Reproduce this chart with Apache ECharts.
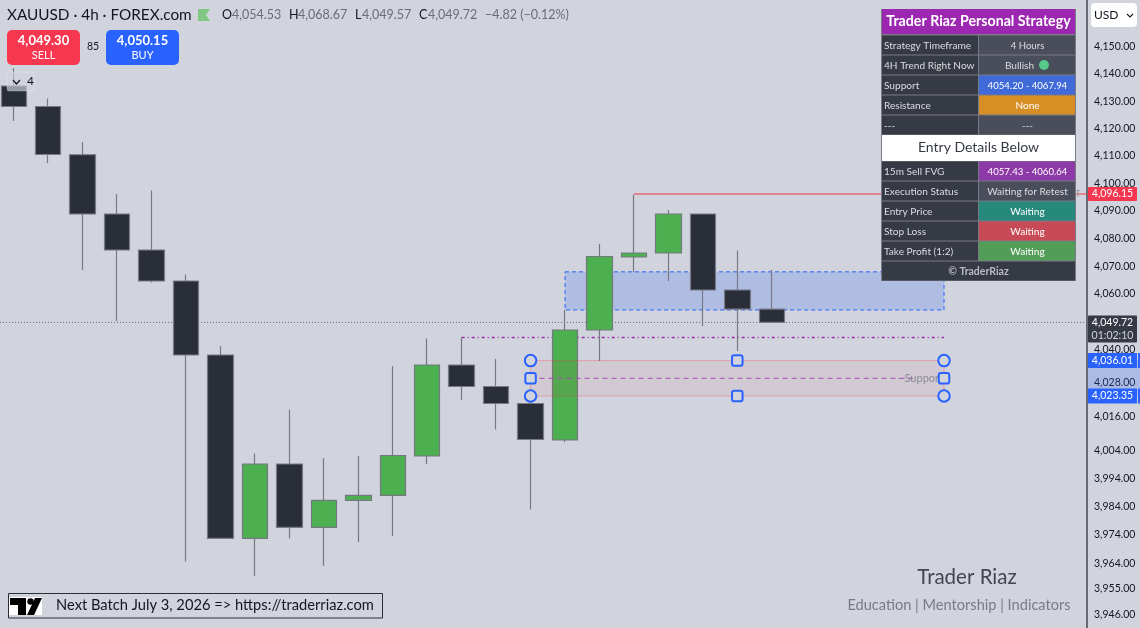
<!DOCTYPE html>
<html>
<head>
<meta charset="utf-8">
<style>
  html, body { margin: 0; padding: 0; background: #d1d4dc; }
  #chart { width: 1140px; height: 628px; }
</style>
<script src="https://cdn.jsdelivr.net/npm/echarts@6/dist/echarts.min.js"></script>
</head>
<body>
<div id="chart"></div>
<script>
// [open, close, low, high] per 4h bar
const candles = [
  [4135.61, 4128.09, 4122.78, 4142.23],
  [4128.09, 4110.54, 4107.44, 4131.03],
  [4110.45, 4088.88, 4068.60, 4115.10],
  [4088.88, 4075.84, 4050.23, 4096.15],
  [4075.84, 4064.63, 4064.09, 4097.42],
  [4064.63, 4038.02, 3964.69, 4066.98],
  [4038.02, 3972.79, 3972.79, 4041.25],
  [3972.79, 3999.14, 3959.59, 4002.87],
  [3999.14, 3976.67, 3972.79, 4018.53],
  [3976.67, 3986.21, 3963.10, 4001.27],
  [3986.21, 3987.98, 3971.55, 4001.98],
  [3987.98, 4002.16, 3973.67, 4034.08],
  [4001.98, 4034.44, 3999.14, 4043.94],
  [4034.44, 4026.75, 4021.92, 4044.30],
  [4026.75, 4020.68, 4011.40, 4036.59],
  [4020.68, 4007.84, 3983.03, 4023.35],
  [4007.67, 4046.99, 4006.95, 4054.18],
  [4046.99, 4073.48, 4035.87, 4078.01],
  [4073.30, 4074.75, 4067.88, 4095.97],
  [4074.75, 4088.88, 4064.63, 4090.34],
  [4088.88, 4061.39, 4048.43, 4088.88],
  [4061.39, 4054.53, 4039.46, 4075.65],
  [4054.53, 4049.72, 4049.57, 4068.67]
];
const tickValues = [4150, 4140, 4130, 4120, 4110, 4100, 4090, 4080, 4070, 4060, 4040,
  4028, 4016, 4004, 3994, 3984, 3974, 3964, 3955, 3946];

const lastPrice = 4049.72;
const swingHigh = 4096.15;
const swingLine = 4044.30;
const fvgZone = [4067.94, 4054.20];
const supportZone = [4036.01, 4023.35];
const supportMid = 4029.68;
const circleHandles = [[15, 4036.01], [15, 4023.35], [27, 4036.01], [27, 4023.35]];
const squareHandles = [[15, 4029.68], [27, 4029.68], [21, 4036.01], [21, 4023.35]];

const ohlcLegend = [
  ['O', '4,054.53', 222, 232], ['H', '4,068.67', 289, 298],
  ['L', '4,049.57', 355, 362], ['C', '4,049.72', 419, 428]
];
const changeText = '−4.82 (−0.12%)';
const tableRows = [
  ['Strategy Timeframe', '4 Hours', '#4a4e5a'],
  ['4H Trend Right Now', 'Bullish', '#4a4e5a'],
  ['Support', '4054.20 - 4067.94', '#3f6ad8'],
  ['Resistance', 'None', '#d68e25'],
  ['---', '---', '#4a4e5a'],
  null,
  ['15m Sell FVG', '4057.43 - 4060.64', '#8e3aa6'],
  ['Execution Status', 'Waiting for Retest', '#4a4e5a'],
  ['Entry Price', 'Waiting', '#26897b'],
  ['Stop Loss', 'Waiting', '#c94a57'],
  ['Take Profit (1:2)', 'Waiting', '#529e58']
];

const FONT = 'Lato, "Noto Sans", sans-serif';
const BG = '#d1d4dc';
const BLUE = '#2962ff';
const RED = '#f7374f';
const INK = '#131722';
const xMin = -0.4;
const xMax = 31.15;

const chart = echarts.init(document.getElementById('chart'));

function txt(x, y, text, size, fill, extra) {
  return {
    type: 'text', x, y, z: 30,
    style: Object.assign({ text, fontSize: size, fontFamily: FONT, fill, verticalAlign: 'middle' }, extra || {})
  };
}
function box(x, y, w, h, fill, extra) {
  return {
    type: 'rect', z: 20,
    shape: { x, y, width: w, height: h, r: (extra && extra.r) || 0 },
    style: { fill, stroke: (extra && extra.stroke) || null, lineWidth: (extra && extra.lineWidth) || 0 }
  };
}

function buildHeader() {
  const g = [];
  g.push(txt(7, 15, 'XAUUSD · 4h · FOREX.com', 15.3, INK));
  g.push({
    type: 'polygon', z: 30,
    shape: { points: [[198, 9], [210, 9], [206, 15], [210, 21], [198, 21]] },
    style: { fill: '#81c784' }
  });
  ohlcLegend.forEach(function (o) {
    g.push(txt(o[2], 15, o[0], 12.5, INK));
    g.push(txt(o[3], 15, o[1], 12.5, '#6a6d78'));
  });
  g.push(txt(485, 15, changeText, 12.5, '#6a6d78'));

  g.push(box(7, 30, 73, 35, RED, { r: 5 }));
  g.push(txt(43.5, 41, '4,049.30', 13, '#fff', { align: 'center', fontWeight: 'bold' }));
  g.push(txt(43.5, 55, 'SELL', 11, '#fff', { align: 'center' }));
  g.push(txt(93, 47, '85', 10.5, INK, { align: 'center' }));
  g.push(box(106, 30, 73, 35, BLUE, { r: 5 }));
  g.push(txt(142.5, 41, '4,050.15', 13, '#fff', { align: 'center', fontWeight: 'bold' }));
  g.push(txt(142.5, 55, 'BUY', 11, '#fff', { align: 'center' }));

  g.push(box(7, 72, 27, 19, 'rgba(209,212,220,0.65)', { r: 2, stroke: 'rgba(255,255,255,0.25)', lineWidth: 1 }));
  g.push({
    type: 'polyline', z: 30,
    shape: { points: [[13, 80], [16.5, 84], [20, 80]] },
    style: { stroke: INK, lineWidth: 1.2, fill: null }
  });
  g.push(txt(27, 81, '4', 12, INK));
  return g;
}

function buildTable() {
  const x0 = 881, split = 979, x1 = 1076, rowH = 20;
  const g = [];
  g.push(box(x0, 9, x1 - x0, 272, '#787b86'));
  g.push(box(x0 + 1, 9, x1 - x0 - 2, 25, '#9c27b0'));
  g.push(txt((x0 + x1) / 2, 21.5, 'Trader Riaz Personal Strategy', 14.2, '#fff', { align: 'center', fontWeight: 'bold' }));
  let y = 35;
  tableRows.forEach(function (r) {
    if (!r) {
      g.push(box(x0 + 1, y, x1 - x0 - 2, 26, '#ffffff'));
      g.push(txt((x0 + x1) / 2, y + 12, 'Entry Details Below', 14, '#363a45', { align: 'center' }));
      y += 26;
      return;
    }
    g.push(box(x0 + 1, y + 0.5, split - x0 - 2, rowH - 1, '#363a45'));
    g.push(box(split, y + 0.5, x1 - split - 1, rowH - 1, r[2]));
    g.push(txt(x0 + 3, y + 10.5, r[0], 10.1, '#dcdde0'));
    const cx = (split + x1) / 2;
    if (r[1] === 'Bullish') {
      g.push(txt(cx - 8, y + 10.5, r[1], 10.1, '#dcdde0', { align: 'center' }));
      g.push({ type: 'circle', z: 30, shape: { cx: 1044, cy: y + 10, r: 5 }, style: { fill: '#57c98a' } });
    } else {
      const size = /^\d/.test(r[1]) ? 9.6 : 10.1;
      g.push(txt(cx, y + 10.5, r[1], size, r[2] === '#4a4e5a' ? '#dcdde0' : '#fff', { align: 'center' }));
    }
    y += rowH;
  });
  g.push(box(x0 + 1, y + 0.5, x1 - x0 - 2, rowH - 1, '#363a45'));
  g.push(txt((x0 + x1) / 2, y + 10.5, '© TraderRiaz', 10.5, '#b9bbc2', { align: 'center', fontWeight: 'bold' }));
  g.push(txt(1078, 194, 'T', 9, '#9598a1', { align: 'center' }));
  return g;
}

function buildFooter() {
  const g = [];
  g.push(box(8.5, 593.5, 374, 24.5, 'transparent', { stroke: '#2a2e39', lineWidth: 1 }));
  g.push(box(9, 597, 33, 18, '#ffffff'));
  g.push({
    type: 'polygon', z: 30,
    shape: { points: [[10, 598], [26, 598], [26, 615], [18, 615], [18, 605], [10, 605]] },
    style: { fill: '#000' }
  });
  g.push({ type: 'circle', z: 30, shape: { cx: 30.5, cy: 601.5, r: 3.2 }, style: { fill: '#000' } });
  g.push({
    type: 'polygon', z: 30,
    shape: { points: [[35, 598], [42, 598], [34, 615], [27, 615]] },
    style: { fill: '#000' }
  });
  g.push(txt(56, 605, 'Next Batch July 3, 2026 => https://traderriaz.com', 14.7, INK));
  g.push(txt(967, 577, 'Trader Riaz', 20.5, '#434651', { align: 'center' }));
  g.push(txt(959, 605, 'Education | Mentorship | Indicators', 14.6, '#787b86', { align: 'center' }));
  return g;
}

function buildAxisTags() {
  const px = function (p) { return chart.convertToPixel({ yAxisIndex: 0 }, p); };
  const g = [];
  const top = px(supportZone[0]), bot = px(supportZone[1]);
  g.push(box(1088, top, 52, bot - top, 'rgba(41,98,255,0.22)'));
  g.push(box(1088, px(swingHigh) - 7, 49, 14, RED, { r: 1 }));
  g.push(txt(1112.5, px(swingHigh), '4,096.15', 10.5, '#fff', { align: 'center' }));
  const ly = px(lastPrice);
  g.push(box(1088, ly - 7, 49, 27, '#363a45', { r: 1 }));
  g.push(txt(1112.5, ly + 0, '4,049.72', 10.5, '#fff', { align: 'center' }));
  g.push(txt(1112.5, ly + 13, '01:02:10', 10.5, '#d1d4dc', { align: 'center' }));
  [supportZone[0], supportZone[1]].forEach(function (p) {
    const y = px(p);
    g.push(box(1088, y - 7.5, 49, 15, BLUE));
    g.push(box(1138, y - 7.5, 2, 15, BLUE));
    g.push(txt(1112.5, y, p.toLocaleString('en-US', { minimumFractionDigits: 2 }), 10.5, '#fff', { align: 'center' }));
  });
  return g;
}

chart.setOption({
  backgroundColor: BG,
  animation: false,
  grid: { left: 0, right: 53, top: 0, bottom: 0 },
  xAxis: { type: 'value', min: xMin, max: xMax, show: false },
  yAxis: {
    type: 'log', logBase: 10, position: 'right', min: 3941.33, max: 4167.31,
    splitLine: { show: false },
    axisLine: { show: true, onZero: false, lineStyle: { color: '#434651', width: 1.5 } },
    axisTick: { show: false },
    minorTick: { show: false },
    axisLabel: {
      customValues: tickValues,
      margin: 7,
      color: INK,
      fontSize: 10.5,
      fontFamily: FONT,
      formatter: function (v) {
        return Number(v).toLocaleString('en-US', { minimumFractionDigits: 2, maximumFractionDigits: 2 });
      }
    }
  },
  series: [
    {
      name: 'fvg', type: 'line', z: 1, data: [], symbol: 'none',
      markArea: {
        silent: true, z: 1,
        itemStyle: { color: 'rgba(41,98,255,0.2)', borderColor: BLUE, borderWidth: 1, borderType: [4, 3] },
        data: [[{ coord: [16, fvgZone[0]] }, { coord: [27, fvgZone[1]] }]]
      }
    },
    {
      name: 'last', type: 'line', z: 1, symbol: 'none', silent: true,
      lineStyle: { color: '#6a6d78', width: 1, type: [1, 2] },
      data: [[xMin, lastPrice], [xMax, lastPrice]]
    },
    {
      name: 'swing', type: 'line', z: 1, symbol: 'none', silent: true,
      lineStyle: { color: '#9c27b0', width: 1.5, type: [3, 3, 1, 3] },
      data: [[13, swingLine], [27, swingLine]]
    },
    {
      name: 'high', type: 'line', z: 1, symbol: 'none', silent: true,
      lineStyle: { color: '#f23645', width: 1 },
      data: [[18, swingHigh], [xMax, swingHigh]]
    },
    {
      name: 'XAUUSD', type: 'candlestick', z: 2, barWidth: 26,
      itemStyle: { color: '#4caf50', color0: '#2a2e39', borderColor: '#747880', borderColor0: '#787b86', borderWidth: 1.2 },
      data: candles.map(function (c, i) { return [i].concat(c); })
    },
    {
      name: 'support', type: 'line', z: 3, symbol: 'none', silent: true,
      lineStyle: { color: '#ab47bc', width: 1, type: [5, 4] },
      data: [[15, supportMid], [26.1, supportMid]],
      markArea: {
        silent: true, z: 3,
        itemStyle: { color: 'rgba(242,54,69,0.06)', borderColor: 'rgba(242,54,69,0.3)', borderWidth: 1 },
        data: [[{ coord: [15, supportZone[0]] }, { coord: [27, supportZone[1]] }]]
      }
    },
    {
      name: 'supportLabel', type: 'scatter', z: 4, symbolSize: 0, silent: true,
      data: [[27, supportMid]],
      label: { show: true, position: 'left', distance: 1, formatter: '- Support', color: '#787b86', fontSize: 11, fontFamily: FONT }
    },
    {
      name: 'handlesRound', type: 'scatter', z: 5, symbol: 'circle', symbolSize: 11.5, silent: true,
      itemStyle: { color: BG, borderColor: BLUE, borderWidth: 2, opacity: 1 },
      data: circleHandles
    },
    {
      name: 'handlesSquare', type: 'scatter', z: 5, silent: true, symbolSize: 10.5,
      symbol: 'path://M2,0 H8 Q10,0 10,2 V8 Q10,10 8,10 H2 Q0,10 0,8 V2 Q0,0 2,0 Z',
      itemStyle: { color: BG, borderColor: BLUE, borderWidth: 2, opacity: 1 },
      data: squareHandles
    }
  ]
});

const usdBox = [
  box(1091, 3, 46, 24, '#ffffff', { r: 4 }),
  txt(1094, 15, 'USD', 12, INK),
  {
    type: 'polyline', z: 30,
    shape: { points: [[1127, 14], [1130, 17], [1133, 14]] },
    style: { stroke: INK, lineWidth: 1.1, fill: null }
  }
];

chart.setOption({
  graphic: { elements: buildHeader().concat(buildTable(), buildFooter(), buildAxisTags(), usdBox) }
});
</script>
</body>
</html>
